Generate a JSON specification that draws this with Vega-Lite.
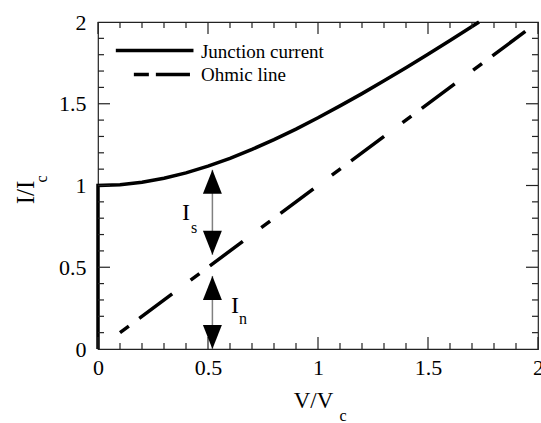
{
  "$schema": "https://vega.github.io/schema/vega-lite/v6.json",
  "width": 440,
  "height": 327,
  "autosize": {"type": "none"},
  "padding": {"left": 98, "top": 22, "right": 3, "bottom": 74},
  "background": "white",
  "config": {
    "view": {"stroke": "#222", "strokeWidth": 1.2},
    "font": "Liberation Serif",
    "text": {"font": "Liberation Serif"},
    "axis": {"grid": false, "domain": false, "labelFont": "Liberation Serif", "titleFont": "Liberation Serif", "labelColor": "black", "titleColor": "black", "titleFontWeight": "normal", "labelFlush": false, "labelOverlap": false, "labelBound": false, "format": "~g"}
  },
  "datasets": {
    "junction": [
      {"v": 0, "i": 0, "k": 0},
      {"v": 0, "i": 1, "k": 1},
      {"v": 0.1, "i": 1.005, "k": 2},
      {"v": 0.2, "i": 1.02, "k": 3},
      {"v": 0.3, "i": 1.044, "k": 4},
      {"v": 0.4, "i": 1.077, "k": 5},
      {"v": 0.5, "i": 1.118, "k": 6},
      {"v": 0.6, "i": 1.166, "k": 7},
      {"v": 0.7, "i": 1.221, "k": 8},
      {"v": 0.8, "i": 1.281, "k": 9},
      {"v": 0.9, "i": 1.345, "k": 10},
      {"v": 1.0, "i": 1.414, "k": 11},
      {"v": 1.1, "i": 1.487, "k": 12},
      {"v": 1.2, "i": 1.562, "k": 13},
      {"v": 1.3, "i": 1.64, "k": 14},
      {"v": 1.4, "i": 1.72, "k": 15},
      {"v": 1.5, "i": 1.803, "k": 16},
      {"v": 1.6, "i": 1.887, "k": 17},
      {"v": 1.7, "i": 1.972, "k": 18},
      {"v": 1.732, "i": 2.0, "k": 19}
    ],
    "ohmic": [{"v": 0.1, "i": 0.1}, {"v": 1.95, "i": 1.95}],
    "arrows": [{"v": 0.52, "lo": 0.576, "hi": 1.096}, {"v": 0.52, "lo": 0, "hi": 0.447}],
    "heads": [
      {"v": 0.52, "i": 1.096, "dir": "up"},
      {"v": 0.52, "i": 0.576, "dir": "down"},
      {"v": 0.52, "i": 0.447, "dir": "up"},
      {"v": 0.52, "i": 0, "dir": "down"}
    ],
    "ticks": [
      {"v": 0, "i": 0, "side": "b", "kind": "major"}, {"v": 0.1, "i": 0, "side": "b", "kind": "minor"}, {"v": 0.2, "i": 0, "side": "b", "kind": "minor"}, {"v": 0.3, "i": 0, "side": "b", "kind": "minor"}, {"v": 0.4, "i": 0, "side": "b", "kind": "minor"}, {"v": 0.5, "i": 0, "side": "b", "kind": "major"}, {"v": 0.6, "i": 0, "side": "b", "kind": "minor"}, {"v": 0.7, "i": 0, "side": "b", "kind": "minor"}, {"v": 0.8, "i": 0, "side": "b", "kind": "minor"}, {"v": 0.9, "i": 0, "side": "b", "kind": "minor"}, {"v": 1.0, "i": 0, "side": "b", "kind": "major"}, {"v": 1.1, "i": 0, "side": "b", "kind": "minor"}, {"v": 1.2, "i": 0, "side": "b", "kind": "minor"}, {"v": 1.3, "i": 0, "side": "b", "kind": "minor"}, {"v": 1.4, "i": 0, "side": "b", "kind": "minor"}, {"v": 1.5, "i": 0, "side": "b", "kind": "major"}, {"v": 1.6, "i": 0, "side": "b", "kind": "minor"}, {"v": 1.7, "i": 0, "side": "b", "kind": "minor"}, {"v": 1.8, "i": 0, "side": "b", "kind": "minor"}, {"v": 1.9, "i": 0, "side": "b", "kind": "minor"}, {"v": 2.0, "i": 0, "side": "b", "kind": "major"},
      {"v": 0, "i": 2, "side": "t", "kind": "major"}, {"v": 0.1, "i": 2, "side": "t", "kind": "minor"}, {"v": 0.2, "i": 2, "side": "t", "kind": "minor"}, {"v": 0.3, "i": 2, "side": "t", "kind": "minor"}, {"v": 0.4, "i": 2, "side": "t", "kind": "minor"}, {"v": 0.5, "i": 2, "side": "t", "kind": "major"}, {"v": 0.6, "i": 2, "side": "t", "kind": "minor"}, {"v": 0.7, "i": 2, "side": "t", "kind": "minor"}, {"v": 0.8, "i": 2, "side": "t", "kind": "minor"}, {"v": 0.9, "i": 2, "side": "t", "kind": "minor"}, {"v": 1.0, "i": 2, "side": "t", "kind": "major"}, {"v": 1.1, "i": 2, "side": "t", "kind": "minor"}, {"v": 1.2, "i": 2, "side": "t", "kind": "minor"}, {"v": 1.3, "i": 2, "side": "t", "kind": "minor"}, {"v": 1.4, "i": 2, "side": "t", "kind": "minor"}, {"v": 1.5, "i": 2, "side": "t", "kind": "major"}, {"v": 1.6, "i": 2, "side": "t", "kind": "minor"}, {"v": 1.7, "i": 2, "side": "t", "kind": "minor"}, {"v": 1.8, "i": 2, "side": "t", "kind": "minor"}, {"v": 1.9, "i": 2, "side": "t", "kind": "minor"}, {"v": 2.0, "i": 2, "side": "t", "kind": "major"},
      {"v": 0, "i": 0.1, "side": "l", "kind": "minor"}, {"v": 0, "i": 0.2, "side": "l", "kind": "minor"}, {"v": 0, "i": 0.3, "side": "l", "kind": "minor"}, {"v": 0, "i": 0.4, "side": "l", "kind": "minor"}, {"v": 0, "i": 0.5, "side": "l", "kind": "major"}, {"v": 0, "i": 0.6, "side": "l", "kind": "minor"}, {"v": 0, "i": 0.7, "side": "l", "kind": "minor"}, {"v": 0, "i": 0.8, "side": "l", "kind": "minor"}, {"v": 0, "i": 0.9, "side": "l", "kind": "minor"}, {"v": 0, "i": 1.0, "side": "l", "kind": "major"}, {"v": 0, "i": 1.1, "side": "l", "kind": "minor"}, {"v": 0, "i": 1.2, "side": "l", "kind": "minor"}, {"v": 0, "i": 1.3, "side": "l", "kind": "minor"}, {"v": 0, "i": 1.4, "side": "l", "kind": "minor"}, {"v": 0, "i": 1.5, "side": "l", "kind": "major"}, {"v": 0, "i": 1.6, "side": "l", "kind": "minor"}, {"v": 0, "i": 1.7, "side": "l", "kind": "minor"}, {"v": 0, "i": 1.8, "side": "l", "kind": "minor"}, {"v": 0, "i": 1.9, "side": "l", "kind": "minor"},
      {"v": 2, "i": 0.1, "side": "r", "kind": "minor"}, {"v": 2, "i": 0.2, "side": "r", "kind": "minor"}, {"v": 2, "i": 0.3, "side": "r", "kind": "minor"}, {"v": 2, "i": 0.4, "side": "r", "kind": "minor"}, {"v": 2, "i": 0.5, "side": "r", "kind": "major"}, {"v": 2, "i": 0.6, "side": "r", "kind": "minor"}, {"v": 2, "i": 0.7, "side": "r", "kind": "minor"}, {"v": 2, "i": 0.8, "side": "r", "kind": "minor"}, {"v": 2, "i": 0.9, "side": "r", "kind": "minor"}, {"v": 2, "i": 1.0, "side": "r", "kind": "major"}, {"v": 2, "i": 1.1, "side": "r", "kind": "minor"}, {"v": 2, "i": 1.2, "side": "r", "kind": "minor"}, {"v": 2, "i": 1.3, "side": "r", "kind": "minor"}, {"v": 2, "i": 1.4, "side": "r", "kind": "minor"}, {"v": 2, "i": 1.5, "side": "r", "kind": "major"}, {"v": 2, "i": 1.6, "side": "r", "kind": "minor"}, {"v": 2, "i": 1.7, "side": "r", "kind": "minor"}, {"v": 2, "i": 1.8, "side": "r", "kind": "minor"}, {"v": 2, "i": 1.9, "side": "r", "kind": "minor"}
    ],
    "letters": [{"v": 0.4, "i": 0.789, "t": "I"}, {"v": 0.623, "i": 0.22, "t": "I"}],
    "subs": [{"v": 0.423, "i": 0.709, "t": "s"}, {"v": 0.641, "i": 0.153, "t": "n"}],
    "legSolid": [{"v": 0.081, "i": 1.826}, {"v": 0.434, "i": 1.826}],
    "legDash": [{"v": 0.163, "i": 1.679}, {"v": 0.418, "i": 1.679}],
    "legText": [{"v": 0.468, "i": 1.781, "t": "Junction current"}, {"v": 0.468, "i": 1.638, "t": "Ohmic line"}]
  },
  "resolve": {"axis": {"x": "independent", "y": "independent"}, "scale": {"shape": "independent", "size": "independent"}},
  "layer": [
    {
      "data": {"name": "junction"},
      "mark": {"type": "line", "color": "black", "strokeWidth": 3.5, "clip": false},
      "encoding": {
        "x": {"field": "v", "type": "quantitative", "scale": {"domain": [0, 2], "nice": false, "zero": false},
          "axis": {"orient": "bottom", "values": [0, 0.5, 1, 1.5, 2], "ticks": false, "labelFont": "Liberation Serif", "labelFontSize": 22, "labelPadding": 8, "title": "V/V", "titleFont": "Liberation Serif", "titleFontSize": 23, "titleX": 215, "titleY": 58, "titleAlign": "center", "titleBaseline": "alphabetic"}},
        "y": {"field": "i", "type": "quantitative", "scale": {"domain": [0, 2], "nice": false, "zero": false},
          "axis": {"orient": "left", "values": [0, 0.5, 1, 1.5, 2], "ticks": false, "labelFont": "Liberation Serif", "labelFontSize": 22, "labelPadding": 12, "title": "I/I", "titleFont": "Liberation Serif", "titleFontSize": 25, "titleAngle": -90, "titleX": -64.7, "titleY": 170, "titleAlign": "center", "titleBaseline": "alphabetic"}},
        "order": {"field": "k", "type": "quantitative"}
      }
    },
    {
      "data": {"name": "ohmic"},
      "mark": {"type": "line", "color": "black", "strokeWidth": 3.5, "strokeDash": [11, 13, 41, 23], "strokeCap": "butt"},
      "encoding": {
        "x": {"field": "v", "type": "quantitative", "scale": {"domain": [0, 2], "nice": false, "zero": false},
          "axis": {"orient": "bottom", "values": [0, 1], "labels": false, "ticks": false, "title": "c", "titleFont": "Liberation Serif", "titleFontSize": 16, "titleX": 241, "titleY": 71, "titleAlign": "left", "titleBaseline": "alphabetic"}},
        "y": {"field": "i", "type": "quantitative", "scale": {"domain": [0, 2], "nice": false, "zero": false},
          "axis": {"orient": "left", "values": [0, 1], "labels": false, "ticks": false, "title": "c", "titleFont": "Liberation Serif", "titleFontSize": 16, "titleAngle": -90, "titleX": -51.3, "titleY": 160, "titleAlign": "left", "titleBaseline": "alphabetic"}}
      }
    },
    {
      "data": {"name": "ticks"},
      "mark": {"type": "point", "filled": false, "color": "#222", "opacity": 1, "strokeWidth": 1.2, "strokeCap": "butt"},
      "encoding": {
        "x": {"field": "v", "type": "quantitative", "scale": {"domain": [0, 2], "nice": false, "zero": false}, "axis": null},
        "y": {"field": "i", "type": "quantitative", "scale": {"domain": [0, 2], "nice": false, "zero": false}, "axis": null},
        "shape": {"field": "side", "type": "nominal", "scale": {"domain": ["b", "t", "l", "r"], "range": ["M0,0L0,-2", "M0,0L0,2", "M0,0L2,0", "M0,0L-2,0"]}, "legend": null},
        "size": {"field": "kind", "type": "nominal", "scale": {"domain": ["major", "minor"], "range": [144, 36]}, "legend": null}
      }
    },
    {
      "data": {"name": "arrows"},
      "mark": {"type": "rule", "color": "#808080", "strokeWidth": 1.5},
      "encoding": {
        "x": {"field": "v", "type": "quantitative", "scale": {"domain": [0, 2], "nice": false, "zero": false}, "axis": null},
        "y": {"field": "lo", "type": "quantitative", "scale": {"domain": [0, 2], "nice": false, "zero": false}, "axis": null},
        "y2": {"field": "hi"}
      }
    },
    {
      "data": {"name": "heads"},
      "mark": {"type": "point", "filled": true, "color": "black", "opacity": 1, "size": 576, "strokeWidth": 0},
      "encoding": {
        "x": {"field": "v", "type": "quantitative", "scale": {"domain": [0, 2], "nice": false, "zero": false}, "axis": null},
        "y": {"field": "i", "type": "quantitative", "scale": {"domain": [0, 2], "nice": false, "zero": false}, "axis": null},
        "shape": {"field": "dir", "type": "nominal", "scale": {"domain": ["up", "down"], "range": ["M0,0L0.79,2L-0.79,2Z", "M0,0L0.79,-2L-0.79,-2Z"]}, "legend": null}
      }
    },
    {
      "data": {"name": "letters"},
      "mark": {"type": "text", "fontSize": 24, "align": "center", "baseline": "alphabetic", "color": "black", "font": "Liberation Serif"},
      "encoding": {
        "x": {"field": "v", "type": "quantitative", "scale": {"domain": [0, 2], "nice": false, "zero": false}, "axis": null},
        "y": {"field": "i", "type": "quantitative", "scale": {"domain": [0, 2], "nice": false, "zero": false}, "axis": null},
        "text": {"field": "t"}
      }
    },
    {
      "data": {"name": "subs"},
      "mark": {"type": "text", "fontSize": 16, "align": "left", "baseline": "alphabetic", "color": "black", "font": "Liberation Serif"},
      "encoding": {
        "x": {"field": "v", "type": "quantitative", "scale": {"domain": [0, 2], "nice": false, "zero": false}, "axis": null},
        "y": {"field": "i", "type": "quantitative", "scale": {"domain": [0, 2], "nice": false, "zero": false}, "axis": null},
        "text": {"field": "t"}
      }
    },
    {
      "data": {"name": "legSolid"},
      "mark": {"type": "line", "color": "black", "strokeWidth": 3.5, "strokeCap": "butt"},
      "encoding": {
        "x": {"field": "v", "type": "quantitative", "scale": {"domain": [0, 2], "nice": false, "zero": false}, "axis": null},
        "y": {"field": "i", "type": "quantitative", "scale": {"domain": [0, 2], "nice": false, "zero": false}, "axis": null}
      }
    },
    {
      "data": {"name": "legDash"},
      "mark": {"type": "line", "color": "black", "strokeWidth": 3.5, "strokeCap": "butt", "strokeDash": [15, 7, 35, 200]},
      "encoding": {
        "x": {"field": "v", "type": "quantitative", "scale": {"domain": [0, 2], "nice": false, "zero": false}, "axis": null},
        "y": {"field": "i", "type": "quantitative", "scale": {"domain": [0, 2], "nice": false, "zero": false}, "axis": null}
      }
    },
    {
      "data": {"name": "legText"},
      "mark": {"type": "text", "fontSize": 19, "align": "left", "baseline": "alphabetic", "color": "black", "font": "Liberation Serif"},
      "encoding": {
        "x": {"field": "v", "type": "quantitative", "scale": {"domain": [0, 2], "nice": false, "zero": false}, "axis": null},
        "y": {"field": "i", "type": "quantitative", "scale": {"domain": [0, 2], "nice": false, "zero": false}, "axis": null},
        "text": {"field": "t"}
      }
    }
  ]
}
